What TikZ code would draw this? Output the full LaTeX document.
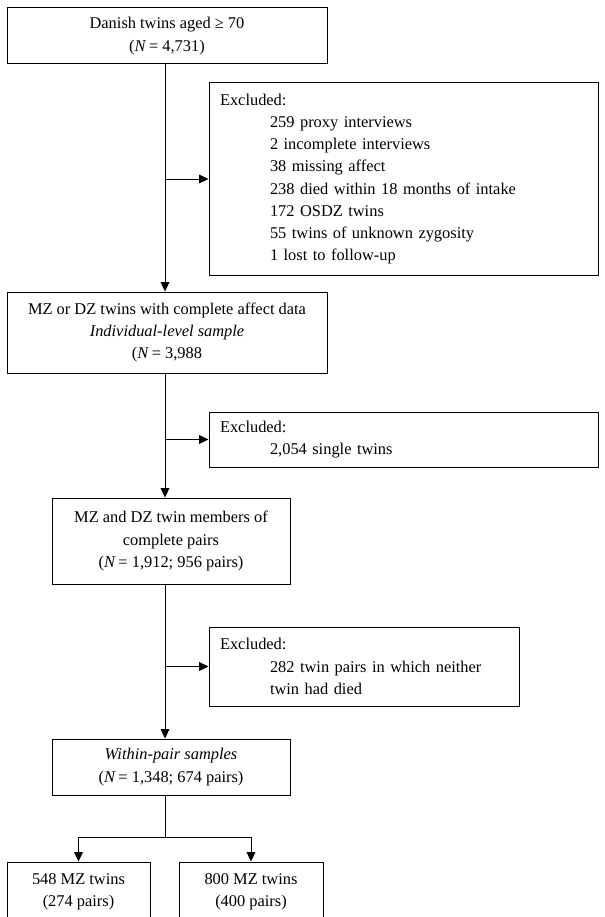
\documentclass[tikz,border=0pt]{standalone}
\usepackage{fontspec}
\setmainfont{Liberation Serif}
\usetikzlibrary{arrows.meta}
\begin{document}
\begin{tikzpicture}[x=0.75pt,y=-0.75pt,
  every node/.style={font=\fontsize{12.3pt}{16.6pt}\selectfont},
  mainbox/.style={draw,line width=0.75pt,align=center,inner sep=0pt},
  excbox/.style={draw,line width=0.75pt,align=left,inner xsep=8.25pt,inner ysep=0pt},
  conn/.style={line width=0.75pt},
  arr/.style={line width=0.75pt,-{Triangle[length=7pt,width=6.5pt]}}]
\useasboundingbox (0,0) rectangle (604,917);
\clip (0,0) rectangle (604,917);
\newcommand{\ind}{\hspace*{37.5pt}}
% main boxes
\node[mainbox,minimum width=240pt,minimum height=42pt] (b1) at (167,36)
  {Danish twins aged ≥ 70\\(\textit{N}\,= 4,731)};
\node[mainbox,minimum width=240pt,minimum height=60.75pt] (b2) at (167,332.5)
  {MZ or DZ twins with complete affect data\\\textit{Individual-level sample}\\(\textit{N}\,= 3,988};
\node[mainbox,minimum width=178.5pt,minimum height=64.5pt] (b3) at (171,541)
  {MZ and DZ twin members of\\complete pairs\\(\textit{N}\,= 1,912; 956 pairs)};
\node[mainbox,minimum width=178.5pt,minimum height=42pt] (b4) at (171,767)
  {\textit{Within-pair samples}\\(\textit{N}\,= 1,348; 674 pairs)};
\node[mainbox,minimum width=107.25pt,minimum height=45pt] (b5) at (78.5,892)
  {548 MZ twins\\(274 pairs)};
\node[mainbox,minimum width=108pt,minimum height=45pt] (b6) at (251,892)
  {800 MZ twins\\(400 pairs)};
% exclusion boxes
\node[excbox,text width=275.25pt,minimum height=144pt] (e1) at (403.5,179)
  {Excluded:\\\ind 259 proxy interviews\\\ind 2 incomplete interviews\\\ind 38 missing affect\\\ind 238 died within 18 months of intake\\\ind 172 OSDZ twins\\\ind 55 twins of unknown zygosity\\\ind 1 lost to follow-up};
\node[excbox,text width=275.25pt,minimum height=41.25pt] (e2) at (403.5,439.5)
  {Excluded:\\\ind 2,054 single twins};
\node[excbox,text width=216pt,minimum height=59.25pt] (e3) at (364,666.5)
  {Excluded:\\\ind 282 twin pairs in which neither\\\ind twin had died};
% spine
\coordinate (spine) at (165,0);
\coordinate (split) at (165,837);
\draw[arr] (b1.south -| spine) -- (b2.north -| spine);
\draw[arr] (e1.west -| spine) -- (e1.west);
\draw[arr] (b2.south -| spine) -- (b3.north -| spine);
\draw[arr] (e2.west -| spine) -- (e2.west);
\draw[arr] (b3.south -| spine) -- (b4.north -| spine);
\draw[arr] (e3.west -| spine) -- (e3.west);
\draw[conn] (b4.south -| spine) -- (split);
\draw[arr] (split) -| (b5.north);
\draw[arr] (split) -| (b6.north);
\end{tikzpicture}
\end{document}
